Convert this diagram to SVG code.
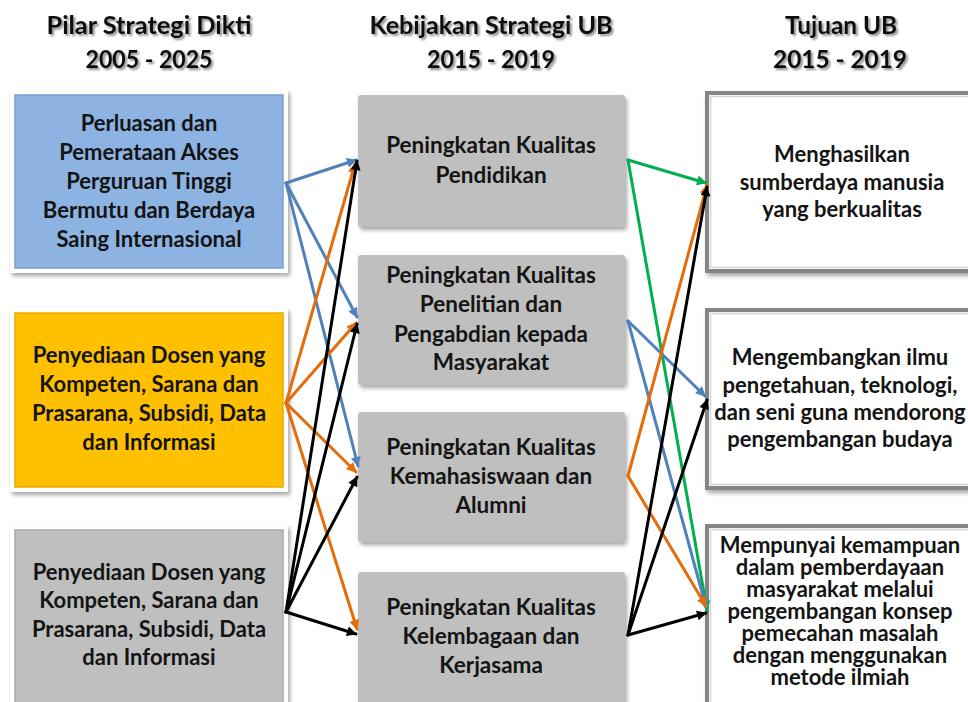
<svg xmlns="http://www.w3.org/2000/svg" width="968" height="702" viewBox="0 0 968 702">
  <style>
    .head { font-family: Lato, "Liberation Sans", sans-serif; font-weight: 700; font-size: 24px; fill: #111; text-anchor: middle; }
    .txt { font-family: Lato, "Liberation Sans", sans-serif; font-weight: 700; font-size: 22px; fill: #141414; text-anchor: middle; }
    .mtxt { font-size: 22.5px; }
    .frame { fill: #ffffff; }
    .mid { fill: #bfbfbf; }
    .goal { fill: #ffffff; stroke: #858585; stroke-width: 4; }
    .goal-in { fill: none; stroke: #d4d4d4; stroke-width: 1.5; }
    .ln { fill: none; stroke-width: 3; stroke-linecap: round; }
    .blue { stroke: #4f81bd; }
    .orange { stroke: #e46c0a; }
    .black { stroke: #000000; }
    .green { stroke: #00b050; }
  </style>
  <defs>
    <filter id="shadow" x="-10%" y="-10%" width="120%" height="130%">
      <feDropShadow dx="2" dy="3" stdDeviation="2" flood-color="#000" flood-opacity="0.35"/>
    </filter>
    <filter id="tshadow" x="-10%" y="-20%" width="120%" height="150%">
      <feDropShadow dx="2" dy="2" stdDeviation="1.2" flood-color="#000" flood-opacity="0.45"/>
    </filter>
    <marker id="ah-blue" viewBox="0 0 10 10" refX="9" refY="5" markerWidth="11" markerHeight="10" markerUnits="userSpaceOnUse" orient="auto">
      <path d="M0,0 L10,5 L0,10 z" fill="#4f81bd"/>
    </marker>
    <marker id="ah-orange" viewBox="0 0 10 10" refX="9" refY="5" markerWidth="11" markerHeight="10" markerUnits="userSpaceOnUse" orient="auto">
      <path d="M0,0 L10,5 L0,10 z" fill="#e46c0a"/>
    </marker>
    <marker id="ah-black" viewBox="0 0 10 10" refX="9" refY="5" markerWidth="11" markerHeight="10" markerUnits="userSpaceOnUse" orient="auto">
      <path d="M0,0 L10,5 L0,10 z" fill="#000000"/>
    </marker>
    <marker id="ah-green" viewBox="0 0 10 10" refX="9" refY="5" markerWidth="11" markerHeight="10" markerUnits="userSpaceOnUse" orient="auto">
      <path d="M0,0 L10,5 L0,10 z" fill="#00b050"/>
    </marker>
  </defs>

  <rect width="968" height="702" fill="#ffffff"/>

  <!-- column headings -->
  <g id="headings" filter="url(#tshadow)">
    <text class="head" x="149" y="34" textLength="205" lengthAdjust="spacingAndGlyphs">Pilar Strategi Dikti</text>
    <text class="head" x="149" y="68" textLength="127" lengthAdjust="spacingAndGlyphs">2005 - 2025</text>
    <text class="head" x="491" y="34" textLength="243" lengthAdjust="spacingAndGlyphs">Kebijakan Strategi UB</text>
    <text class="head" x="491" y="68" textLength="128" lengthAdjust="spacingAndGlyphs">2015 - 2019</text>
    <text class="head" x="841" y="34" textLength="112" lengthAdjust="spacingAndGlyphs">Tujuan UB</text>
    <text class="head" x="840" y="68" textLength="134" lengthAdjust="spacingAndGlyphs">2015 - 2019</text>
  </g>

  <!-- pillar column -->
  <g id="pilar-akses">
    <rect class="frame" x="10" y="90" width="278" height="183" filter="url(#shadow)"/>
    <rect x="15" y="95" width="268" height="173" fill="#8db3e2" stroke="#7a9fd0" stroke-width="1.5"/>
    <text class="txt" x="149" y="131">Perluasan dan</text>
    <text class="txt" x="149" y="160">Pemerataan Akses</text>
    <text class="txt" x="149" y="189">Perguruan Tinggi</text>
    <text class="txt" x="149" y="218">Bermutu dan Berdaya</text>
    <text class="txt" x="149" y="247">Saing Internasional</text>
  </g>
  <g id="pilar-dosen-1">
    <rect class="frame" x="10" y="308" width="278" height="184" filter="url(#shadow)"/>
    <rect x="15" y="313" width="268" height="174" fill="#ffc000" stroke="#e6ad00" stroke-width="1.5"/>
    <text class="txt" x="149" y="363">Penyediaan Dosen yang</text>
    <text class="txt" x="149" y="392">Kompeten, Sarana dan</text>
    <text class="txt" x="149" y="421">Prasarana, Subsidi, Data</text>
    <text class="txt" x="149" y="450">dan Informasi</text>
  </g>
  <g id="pilar-dosen-2">
    <rect class="frame" x="10" y="525" width="278" height="190" filter="url(#shadow)"/>
    <rect x="15" y="530" width="268" height="180" fill="#bfbfbf" stroke="#a9a9a9" stroke-width="1.5"/>
    <text class="txt" x="149" y="580">Penyediaan Dosen yang</text>
    <text class="txt" x="149" y="608">Kompeten, Sarana dan</text>
    <text class="txt" x="149" y="637">Prasarana, Subsidi, Data</text>
    <text class="txt" x="149" y="665">dan Informasi</text>
  </g>

  <!-- policy column -->
  <g id="kebijakan-pendidikan">
    <rect class="mid" x="358" y="95" width="267" height="132" rx="3" filter="url(#shadow)"/>
    <text class="txt mtxt" x="491" y="153">Peningkatan Kualitas</text>
    <text class="txt mtxt" x="491" y="183">Pendidikan</text>
  </g>
  <g id="kebijakan-penelitian">
    <rect class="mid" x="358" y="255" width="267" height="130" rx="3" filter="url(#shadow)"/>
    <text class="txt mtxt" x="491" y="283">Peningkatan Kualitas</text>
    <text class="txt mtxt" x="491" y="312">Penelitian dan</text>
    <text class="txt mtxt" x="491" y="342">Pengabdian kepada</text>
    <text class="txt mtxt" x="491" y="370">Masyarakat</text>
  </g>
  <g id="kebijakan-kemahasiswaan">
    <rect class="mid" x="358" y="412" width="267" height="130" rx="3" filter="url(#shadow)"/>
    <text class="txt mtxt" x="491" y="455">Peningkatan Kualitas</text>
    <text class="txt mtxt" x="491" y="484">Kemahasiswaan dan</text>
    <text class="txt mtxt" x="491" y="513">Alumni</text>
  </g>
  <g id="kebijakan-kelembagaan">
    <rect class="mid" x="358" y="572" width="267" height="140" rx="3" filter="url(#shadow)"/>
    <text class="txt mtxt" x="491" y="615">Peningkatan Kualitas</text>
    <text class="txt mtxt" x="491" y="644">Kelembagaan dan</text>
    <text class="txt mtxt" x="491" y="673">Kerjasama</text>
  </g>

  <!-- goal column -->
  <g id="tujuan-sdm">
    <rect class="goal" x="707" y="93" width="275" height="178" filter="url(#shadow)"/>
    <rect class="goal-in" x="710.5" y="96.5" width="268" height="171"/>
    <text class="txt" x="842" y="162">Menghasilkan</text>
    <text class="txt" x="842" y="190">sumberdaya manusia</text>
    <text class="txt" x="842" y="217">yang berkualitas</text>
  </g>
  <g id="tujuan-ilmu">
    <rect class="goal" x="707" y="310" width="275" height="178" filter="url(#shadow)"/>
    <rect class="goal-in" x="710.5" y="313.5" width="268" height="171"/>
    <text class="txt" x="840" y="365">Mengembangkan ilmu</text>
    <text class="txt" x="840" y="393">pengetahuan, teknologi,</text>
    <text class="txt" x="840" y="420">dan seni guna mendorong</text>
    <text class="txt" x="840" y="447">pengembangan budaya</text>
  </g>
  <g id="tujuan-masyarakat">
    <rect class="goal" x="707" y="526" width="275" height="190" filter="url(#shadow)"/>
    <rect class="goal-in" x="710.5" y="529.5" width="268" height="183"/>
    <text class="txt" x="840" y="553">Mempunyai kemampuan</text>
    <text class="txt" x="840" y="575">dalam pemberdayaan</text>
    <text class="txt" x="840" y="597">masyarakat melalui</text>
    <text class="txt" x="840" y="619">pengembangan konsep</text>
    <text class="txt" x="840" y="641">pemecahan masalah</text>
    <text class="txt" x="840" y="663">dengan menggunakan</text>
    <text class="txt" x="840" y="685">metode ilmiah</text>
  </g>

  <!-- connectors -->
  <g id="connectors">
    <!-- pillar -> policy -->
    <line class="ln blue" x1="286" y1="183" x2="356" y2="160" marker-end="url(#ah-blue)"/>
    <line class="ln blue" x1="286" y1="183" x2="357" y2="317" marker-end="url(#ah-blue)"/>
    <line class="ln blue" x1="286" y1="183" x2="358" y2="466" marker-end="url(#ah-blue)"/>

    <line class="ln orange" x1="286" y1="403" x2="355" y2="164" marker-end="url(#ah-orange)"/>
    <line class="ln orange" x1="286" y1="403" x2="356" y2="323" marker-end="url(#ah-orange)"/>
    <line class="ln orange" x1="286" y1="403" x2="356" y2="472" marker-end="url(#ah-orange)"/>
    <line class="ln orange" x1="286" y1="403" x2="357" y2="629" marker-end="url(#ah-orange)"/>

    <line class="ln black" x1="286" y1="612" x2="357" y2="161" marker-end="url(#ah-black)"/>
    <line class="ln black" x1="286" y1="612" x2="357" y2="324" marker-end="url(#ah-black)"/>
    <line class="ln black" x1="286" y1="612" x2="357" y2="477" marker-end="url(#ah-black)"/>
    <line class="ln black" x1="286" y1="612" x2="356" y2="634" marker-end="url(#ah-black)"/>

    <!-- policy -> goal -->
    <line class="ln green" x1="628" y1="160" x2="706" y2="183" marker-end="url(#ah-green)"/>
    <line class="ln green" x1="628" y1="160" x2="707" y2="610" marker-end="url(#ah-green)"/>

    <line class="ln blue" x1="628" y1="321" x2="705" y2="396" marker-end="url(#ah-blue)"/>
    <line class="ln blue" x1="628" y1="321" x2="706" y2="607" marker-end="url(#ah-blue)"/>

    <line class="ln orange" x1="628" y1="476" x2="707" y2="185" marker-end="url(#ah-orange)"/>
    <line class="ln orange" x1="628" y1="476" x2="706" y2="606" marker-end="url(#ah-orange)"/>

    <line class="ln black" x1="628" y1="635" x2="707" y2="187" marker-end="url(#ah-black)"/>
    <line class="ln black" x1="628" y1="635" x2="707" y2="400" marker-end="url(#ah-black)"/>
    <line class="ln black" x1="628" y1="635" x2="706" y2="613" marker-end="url(#ah-black)"/>
  </g>
</svg>
